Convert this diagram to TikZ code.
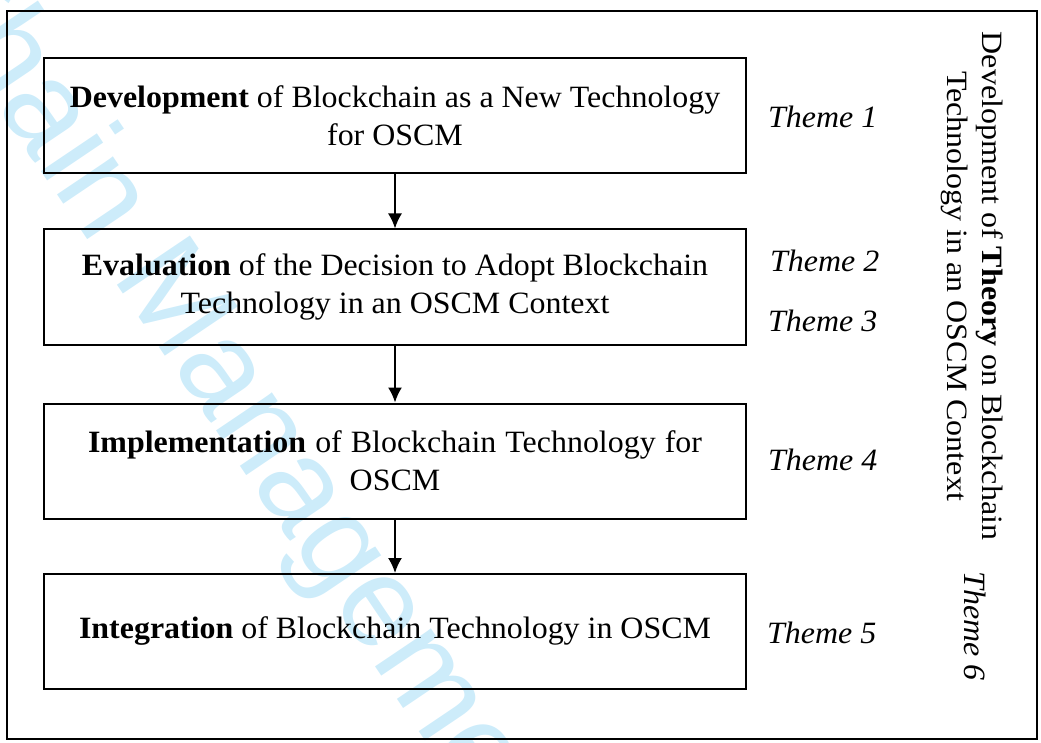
\documentclass[tikz,border=0pt]{standalone}
\usepackage{fontspec}
\setmainfont{Liberation Serif}[FakeStretch=1.03]
\newfontfamily\rotfont{Liberation Serif}[FakeStretch=1.085]
\newfontfamily\wmfont{Liberation Sans}
\usetikzlibrary{arrows.meta}
\definecolor{wmblue}{RGB}{205,236,250}
\tikzset{
  stagebox/.style={draw, line width=2pt, minimum width=702pt, minimum height=115pt, inner sep=0pt, align=center},
  theme/.style={anchor=base west, inner sep=0pt, font=\itshape},
  flow/.style={line width=1.8pt, -{Latex[length=15pt,width=14pt]}},
  wm/.style={text=wmblue, inner sep=0pt, rotate=-56, font=\wmfont\fontsize{128}{128}\selectfont}
}
\begin{document}
\begin{tikzpicture}[x=1pt,y=-1pt]
\useasboundingbox (0,0) rectangle (1041,743);
\clip (0,0) rectangle (1041,743);
\fontsize{31}{38}\selectfont
% watermark
\coordinate (wmp) at (36,164);
\node[wm, anchor=base west] (wm1) at (wmp) {in Management};
\node[wm, anchor=base east] (wm2) at (wmp) {Supply Cha};
% frame
\node[draw, line width=2pt, minimum width=1030pt, minimum height=728pt, inner sep=0pt] (frame) at (522,375) {};
% boxes
\node[stagebox] (b1) at (395,115.5) {\textbf{Development} of Blockchain as a New Technology\\ for OSCM};
\node[stagebox] (b2) at (395,287) {\textbf{Evaluation} of the Decision to Adopt Blockchain\\ Technology in an OSCM Context};
\node[stagebox] (b3) at (395,461) {\makebox[614pt][s]{\textbf{Implementation} of Blockchain Technology for}\\ OSCM};
\node[stagebox] (b4) at (395,631.5) {\textbf{Integration} of Blockchain Technology in OSCM};
% arrows
\draw[flow] (b1.south) -- (b2.north);
\draw[flow] (b2.south) -- (b3.north);
\draw[flow] (b3.south) -- (b4.north);
% themes
\node[theme] (t1) at (768,128) {Theme 1};
\node[theme] (t2) at (770,272) {Theme 2};
\node[theme] (t3) at (768,331) {Theme 3};
\node[theme] (t4) at (768,470) {Theme 4};
\node[theme] (t5) at (767,643) {Theme 5};
\node[rotate=-90, inner sep=0pt, align=center, font=\rotfont\fontsize{29.5}{35}\selectfont] (theory) at (972,286) {Development of \textbf{Theory} on Blockchain\\ Technology in an OSCM Context};
\node[rotate=-90, inner sep=0pt, font=\itshape] (t6) at (975,626) {Theme 6};
\end{tikzpicture}
\end{document}
